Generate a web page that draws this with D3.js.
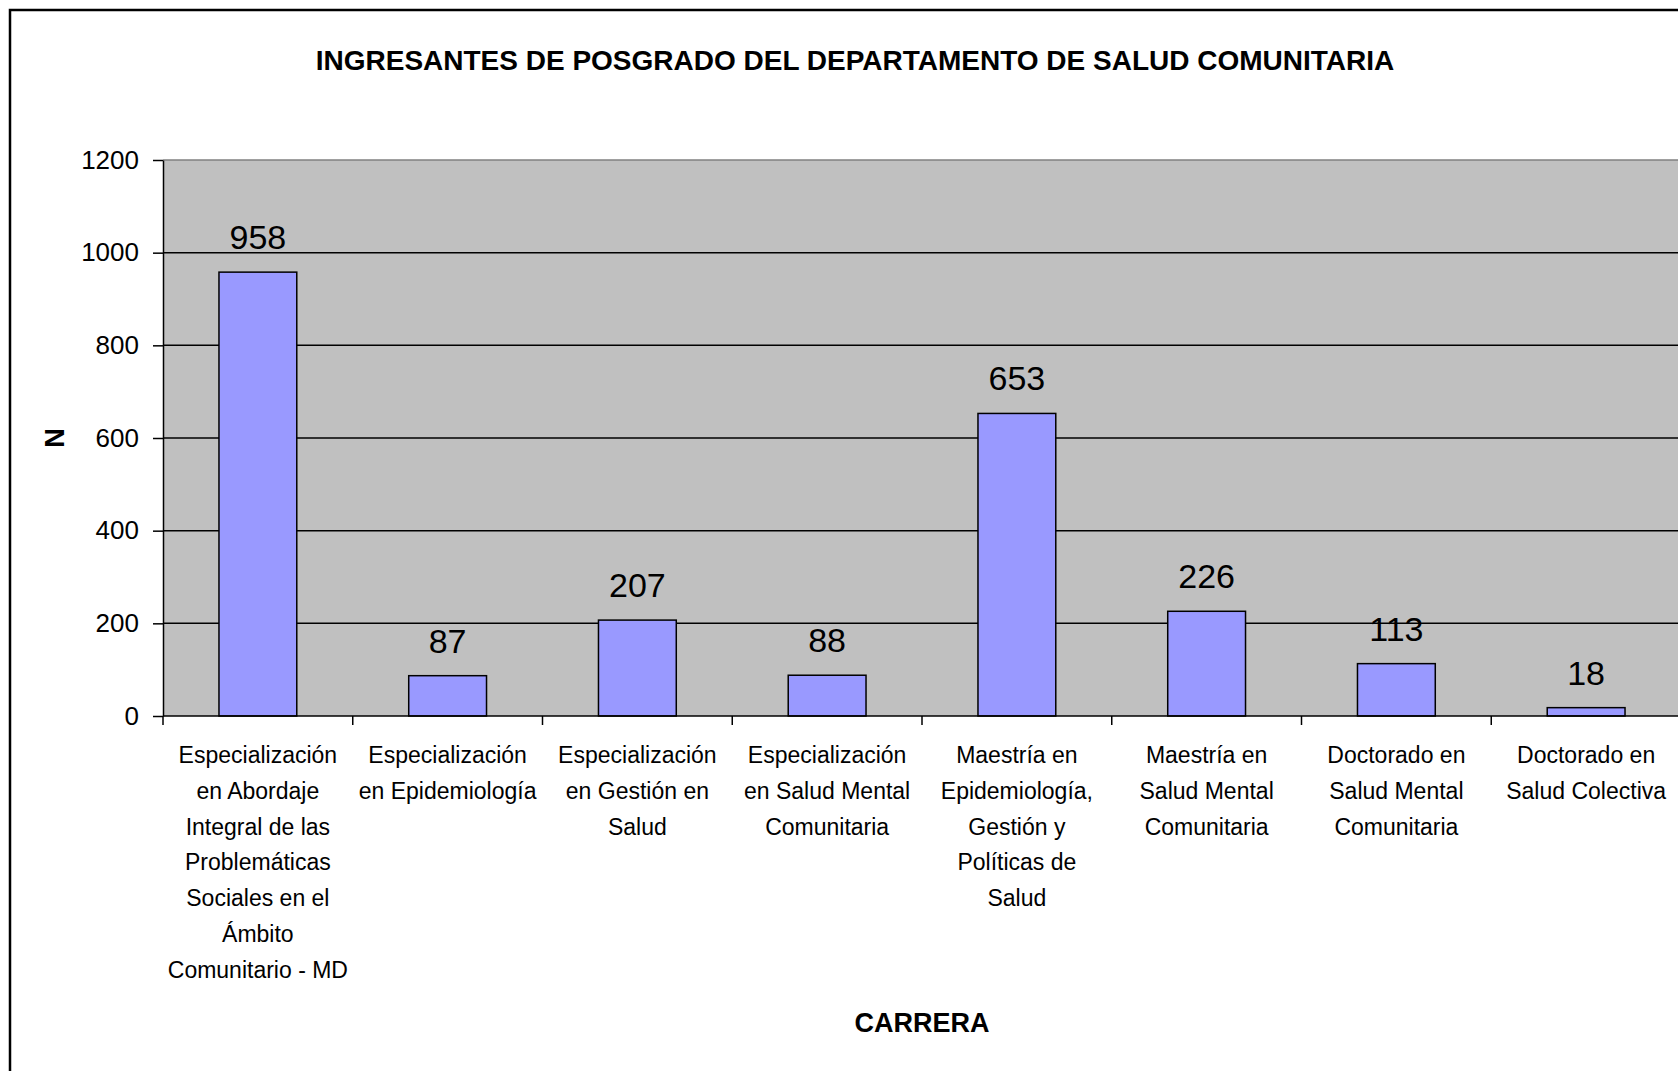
<!DOCTYPE html>
<html>
<head>
<meta charset="utf-8">
<script src="https://cdn.jsdelivr.net/npm/d3@7"></script>
<style>
  body { margin: 0; background: #fff; }
  svg text { font-family: "Liberation Sans", Arial, sans-serif; fill: #000; }
</style>
</head>
<body>
<div id="chart"></div>
<script>
// chart values
var carreras = [
    ["Especialización", "en Abordaje", "Integral de las", "Problemáticas", "Sociales en el", "Ámbito", "Comunitario - MD"],
    ["Especialización", "en Epidemiología"],
    ["Especialización", "en Gestión en", "Salud"],
    ["Especialización", "en Salud Mental", "Comunitaria"],
    ["Maestría en", "Epidemiología,", "Gestión y", "Políticas de", "Salud"],
    ["Maestría en", "Salud Mental", "Comunitaria"],
    ["Doctorado en", "Salud Mental", "Comunitaria"],
    ["Doctorado en", "Salud Colectiva"]
];
var ingresantes = [958, 87, 207, 88, 653, 226, 113, 18];
var yTicks = [0, 200, 400, 600, 800, 1000, 1200];

var w = 1678,
    h = 1071;

var plotLeft = 163, plotRight = 1681, plotTop = 160, plotBottom = 716;

var svg = d3.select("#chart")
    .append("svg")
    .attr("width", w)
    .attr("height", h);

// outer frame (chart is cropped at right and bottom)
svg.append("path")
    .attr("d", "M10," + h + " V10 H" + (w + 5))
    .attr("fill", "none")
    .attr("stroke", "#000")
    .attr("stroke-width", 2.5);

var data = carreras.map(function (c, i) { return { label: c, value: ingresantes[i], idx: i }; });

var x = d3.scaleBand()
    .domain(d3.range(carreras.length))
    .range([plotLeft, plotRight])
    .padding(0);

var y = d3.scaleLinear()
    .domain([0, 1200])
    .range([plotBottom, plotTop]);

// plot background
svg.append("rect")
    .attr("x", plotLeft)
    .attr("y", plotTop)
    .attr("width", plotRight - plotLeft)
    .attr("height", plotBottom - plotTop)
    .attr("fill", "#c0c0c0");

// gridlines
svg.selectAll(".grid")
    .data(yTicks.filter(function (d) { return d > 0 && d < 1200; }))
    .enter()
    .append("line")
    .attr("x1", plotLeft)
    .attr("x2", plotRight)
    .attr("y1", function (d) { return y(d); })
    .attr("y2", function (d) { return y(d); })
    .attr("stroke", "#000")
    .attr("stroke-width", 1.5);

svg.append("line")
    .attr("x1", plotLeft)
    .attr("x2", plotRight)
    .attr("y1", y(1200))
    .attr("y2", y(1200))
    .attr("stroke", "#808080")
    .attr("stroke-width", 1.5);

// bars
var barW = x.bandwidth() * 0.41;

svg.selectAll(".bar")
    .data(data)
    .enter()
    .append("rect")
    .attr("class", "bar")
    .attr("x", function (d) { return x(d.idx) + (x.bandwidth() - barW) / 2; })
    .attr("y", function (d) { return y(d.value); })
    .attr("width", barW)
    .attr("height", function (d) { return y(0) - y(d.value); })
    .attr("fill", "#9999ff")
    .attr("stroke", "#000")
    .attr("stroke-width", 1.5);

// value labels
svg.selectAll(".val")
    .data(data)
    .enter()
    .append("text")
    .attr("x", function (d) { return x(d.idx) + x.bandwidth() / 2; })
    .attr("y", function (d) { return y(d.value) - 23; })
    .attr("text-anchor", "middle")
    .style("font-size", "34px")
    .text(function (d) { return d.value; });

// y axis
var yAxis = d3.axisLeft(y)
    .tickValues(yTicks)
    .tickFormat(d3.format("d"))
    .tickSize(10)
    .tickPadding(14)
    .tickSizeOuter(0);

var gy = svg.append("g")
    .attr("transform", "translate(" + plotLeft + ",0)")
    .call(yAxis);
gy.select(".domain").attr("stroke", "#000").attr("stroke-width", 1.5);
gy.selectAll(".tick line").attr("stroke-width", 1.5);
gy.selectAll(".tick text")
    .style("font-size", "26px")
    .style("font-family", "'Liberation Sans', Arial, sans-serif");

// x axis line and category boundary ticks
svg.append("line")
    .attr("x1", plotLeft)
    .attr("x2", plotRight)
    .attr("y1", plotBottom)
    .attr("y2", plotBottom)
    .attr("stroke", "#000")
    .attr("stroke-width", 1.5);

svg.selectAll(".xtick")
    .data(data)
    .enter()
    .append("line")
    .attr("x1", function (d) { return x(d.idx); })
    .attr("x2", function (d) { return x(d.idx); })
    .attr("y1", plotBottom)
    .attr("y2", plotBottom + 9)
    .attr("stroke", "#000")
    .attr("stroke-width", 1.5);

// category labels
var catLabels = svg.selectAll(".cat")
    .data(data)
    .enter()
    .append("text")
    .attr("text-anchor", "middle")
    .style("font-size", "23px");

catLabels.selectAll("tspan")
    .data(function (d) { return d.label.map(function (l) { return { t: l, idx: d.idx }; }); })
    .enter()
    .append("tspan")
    .attr("x", function (d) { return x(d.idx) + x.bandwidth() / 2; })
    .attr("y", function (d, i) { return 763 + i * 35.8; })
    .text(function (d) { return d.t; });

// title
svg.append("text")
    .attr("x", 855)
    .attr("y", 70)
    .attr("text-anchor", "middle")
    .style("font-size", "28px")
    .style("font-weight", "bold")
    .text("INGRESANTES DE POSGRADO DEL DEPARTAMENTO DE SALUD COMUNITARIA");

// axis titles
svg.append("text")
    .attr("transform", "translate(64," + ((plotTop + plotBottom) / 2) + ") rotate(-90)")
    .attr("text-anchor", "middle")
    .style("font-size", "27px")
    .style("font-weight", "bold")
    .text("N");

svg.append("text")
    .attr("x", (plotLeft + plotRight) / 2)
    .attr("y", 1032)
    .attr("text-anchor", "middle")
    .style("font-size", "27px")
    .style("font-weight", "bold")
    .text("CARRERA");
</script>
</body>
</html>
